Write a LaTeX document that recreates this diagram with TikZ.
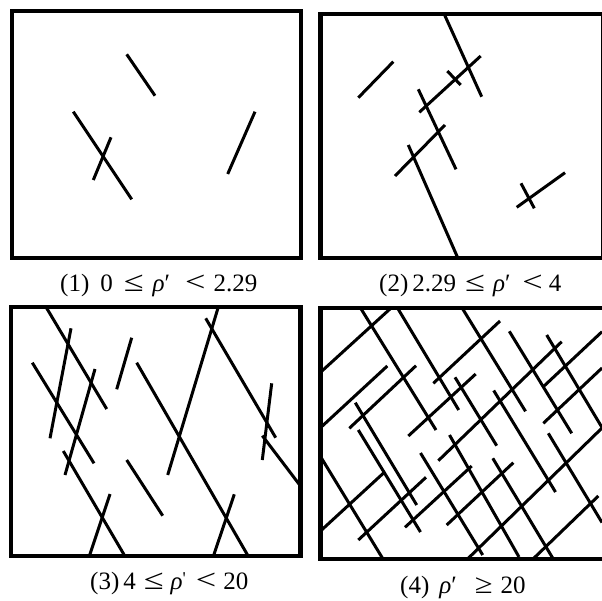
\documentclass[tikz,border=0pt]{standalone}
\usepackage{fontspec}
\setmainfont{Liberation Serif}
\usepackage{graphicx}
\newcommand\bigrel[1]{\scalebox{1.45}[1.15]{#1}}
\begin{document}
\begin{tikzpicture}[x=1pt,y=-1pt,
  seg/.style={line width=3pt},
  frame/.style={line width=4.2pt},
  captext/.style={font=\fontsize{25}{25}\selectfont, inner sep=0pt, anchor=base west}]
\useasboundingbox (0,0) rectangle (602,600);
\clip (0,0) rectangle (602,600);
% ---------- panel 1 ----------
\draw[seg] (126.7,54.3) -- (155,95.7);
\draw[seg] (73.3,111.7) -- (131.7,199.3);
\draw[seg] (111,137.3) -- (93.3,180);
\draw[seg] (255,111.7) -- (227.7,174);
\draw[frame] (12,11.3) rectangle (301,258);
% ---------- panel 2 ----------
\draw[seg] (358.3,97.7) -- (393.3,61.7);
\draw[seg] (444.3,14.3) -- (481.7,96.7);
\draw[seg] (419.3,112.3) -- (480.7,56);
\draw[seg] (447.3,71) -- (460.7,85);
\draw[seg] (418.3,89.3) -- (456,169.3);
\draw[seg] (395,176) -- (445,125);
\draw[seg] (408.3,145) -- (457.7,257.7);
\draw[seg] (516.7,207.3) -- (565,172.7);
\draw[seg] (521,183.3) -- (534.3,208.3);
\draw[frame] (320.5,14.3) rectangle (603,257.7);
% ---------- panel 3 ----------
\draw[seg] (46,307) -- (106.7,409);
\draw[seg] (71,328.3) -- (50,438.3);
\draw[seg] (32.3,362.7) -- (94,463.3);
\draw[seg] (95,369) -- (65,475);
\draw[seg] (131.7,337.7) -- (116.7,389.3);
\draw[seg] (63.3,451) -- (125,556.3);
\draw[seg] (110,494) -- (89.3,556.3);
\draw[seg] (126.7,460) -- (162.7,515.7);
\draw[seg] (136.7,362.7) -- (248.3,556.3);
\draw[seg] (218.3,307) -- (167.7,475);
\draw[seg] (205.7,318.3) -- (275.7,437.7);
\draw[seg] (271.7,383.3) -- (262.3,460);
\draw[seg] (262.3,435.7) -- (300.5,486);
\draw[seg] (234.3,494.3) -- (213.3,556.3);
\draw[frame] (10.8,307) rectangle (300.5,556.3);
% ---------- panel 4 ----------
% up-right strokes
\draw[seg] (320.5,372.3) -- (390.7,308.3);
\draw[seg] (320.5,427.7) -- (387.3,366);
\draw[seg] (349.3,428.3) -- (416,365.7);
\draw[seg] (433.3,383.3) -- (500,321);
\draw[seg] (408.3,436) -- (475.7,374);
\draw[seg] (438.3,460.7) -- (561.7,341.7);
\draw[seg] (543.3,386.7) -- (602,331.7);
\draw[seg] (543.3,423.3) -- (602,368);
\draw[seg] (320.5,531) -- (385,471.7);
\draw[seg] (358.3,540) -- (426,477.3);
\draw[seg] (405,527.3) -- (471.7,466);
\draw[seg] (446.7,525) -- (513.3,462.7);
\draw[seg] (467.5,559) -- (602,428);
\draw[seg] (533,559) -- (598.3,496);
% down-right strokes
\draw[seg] (360.7,308.3) -- (436,430);
\draw[seg] (397.7,308.3) -- (458.7,410);
\draw[seg] (462.3,308.3) -- (525.5,411.3);
\draw[seg] (509.3,331.3) -- (571.7,433.3);
\draw[seg] (546.7,335) -- (602,427.5);
\draw[seg] (455,377.3) -- (496.7,445.7);
\draw[seg] (493.7,390.5) -- (555.5,492);
\draw[seg] (548.3,433.3) -- (602,522.5);
\draw[seg] (355.3,402.7) -- (416.7,505);
\draw[seg] (358.3,430) -- (420.5,532);
\draw[seg] (320.5,456.5) -- (383,559);
\draw[seg] (420.5,453) -- (482.7,555);
\draw[seg] (449.5,435) -- (519,557);
\draw[seg] (492.8,458.3) -- (553.3,559);
\draw[frame] (320.5,308.3) rectangle (604.5,559);
% ---------- captions ----------
\node[captext] (cap1) at (60,291) {(1)\hspace{11pt}0\hspace{11pt}\bigrel{≤}\hspace{9pt}\textit{ρ}′\hspace{15pt}\bigrel{<}\hspace{8pt}2.29};
\node[captext] (cap2) at (379,291) {(2)\hspace{4pt}2.29\hspace{9pt}\bigrel{≤}\hspace{8pt}\textit{ρ}′\hspace{12pt}\bigrel{<}\hspace{6pt}4};
\node[captext] (cap3) at (90,589) {(3)\hspace{4pt}4\hspace{8pt}\bigrel{≤}\hspace{7pt}\textit{ρ}\raisebox{5pt}{\fontsize{18}{18}\selectfont\textquotesingle}\hspace{10pt}\bigrel{<}\hspace{7pt}20};
\node[captext] (cap4) at (400,593) {(4)\hspace{10pt}\textit{ρ}′\hspace{18pt}\scalebox{1.3}[1.1]{≥}\hspace{8pt}20};
\end{tikzpicture}
\end{document}
